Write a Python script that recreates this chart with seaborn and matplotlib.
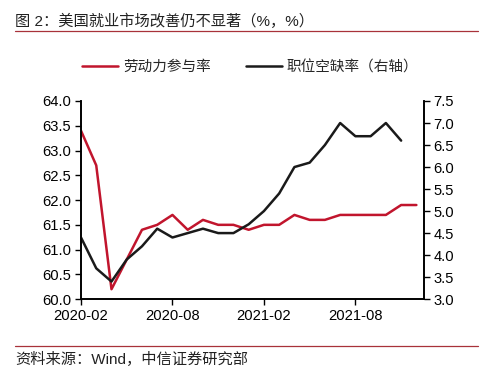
#Importing libraries
import pandas as pd
import matplotlib.pyplot as plt
import seaborn as sns
import numpy as np
from matplotlib.lines import Line2D

#Data (monthly, starting 2020-02)
Participation = [63.4, 62.7, 60.2, 60.8, 61.4, 61.5, 61.7, 61.4, 61.6, 61.5, 61.5, 61.4,
                 61.5, 61.5, 61.7, 61.6, 61.6, 61.7, 61.7, 61.7, 61.7, 61.9, 61.9]
Vacancy = [4.4, 3.7, 3.4, 3.9, 4.2, 4.6, 4.4, 4.5, 4.6, 4.5, 4.5, 4.7,
           5.0, 5.4, 6.0, 6.1, 6.5, 7.0, 6.7, 6.7, 7.0, 6.6]
TickPositions = [0, 6, 12, 18]
TickLabels = ["2020-02", "2020-08", "2021-02", "2021-08"]

RedLabel = "劳动力参与率"
BlackLabel = "职位空缺率（右轴）"
Title = "图 2：美国就业市场改善仍不显著（%，%）"
Source = "资料来源：Wind，中信证券研究部"

RED = "#C1152D"
BLACK = "#1A1A1A"

#Building the data frames
LeftFrame = pd.DataFrame({"Month": np.arange(len(Participation)), "Value": Participation})
RightFrame = pd.DataFrame({"Month": np.arange(len(Vacancy)), "Value": Vacancy})

sns.set_style("white")
plt.rcParams["font.family"] = ["Liberation Sans", "Noto Sans CJK SC", "DejaVu Sans"]

fig = plt.figure(figsize=(5, 3.84), dpi=100)
ax = fig.add_axes([0.162, 0.221, 0.686, 0.516])
ax2 = ax.twinx()

sns.lineplot(data=LeftFrame, x="Month", y="Value", ax=ax, color=RED, linewidth=1.8)
sns.lineplot(data=RightFrame, x="Month", y="Value", ax=ax2, color=BLACK, linewidth=1.8)

#Axes limits and ticks
ax.set_xlim(0, 22.5)
ax.set_ylim(60, 64)
ax.set_yticks(np.arange(60, 64.01, 0.5))
ax.set_yticklabels(["{:.1f}".format(v) for v in np.arange(60, 64.01, 0.5)])
ax2.set_ylim(3, 7.5)
ax2.set_yticks(np.arange(3, 7.51, 0.5))
ax2.set_yticklabels(["{:.1f}".format(v) for v in np.arange(3, 7.51, 0.5)])
ax.set_xticks(TickPositions)
ax.set_xticklabels(TickLabels)
for a in (ax, ax2):
    a.set_xlabel("")
    a.set_ylabel("")
    a.spines["top"].set_visible(False)
    for s in ("left", "right", "bottom"):
        a.spines[s].set_color("black")
        a.spines[s].set_linewidth(1.2)
ax.tick_params(axis="both", labelsize=10.6, length=4, width=1.0, direction="out",
               left=True, bottom=True, colors="black", pad=3)
ax2.tick_params(axis="y", labelsize=10.6, length=4, width=1.0, direction="out",
                right=True, colors="black", pad=3)

#Legend above the plot
handles = [Line2D([0], [0], color=RED, lw=1.8), Line2D([0], [0], color=BLACK, lw=1.8)]
fig.legend(handles, [RedLabel, BlackLabel], loc="center", bbox_to_anchor=(0.5, 0.825),
           ncol=2, frameon=False, fontsize=10.5, handlelength=2.5, handletextpad=0.3,
           columnspacing=2.4)

#Title, source and the red rules
fig.text(0.03, 0.945, Title, fontsize=11, ha="left", va="center", color="#222222")
fig.text(0.03, 0.063, Source, fontsize=11, ha="left", va="center", color="#222222")
fig.add_artist(Line2D([0.03, 0.956], [0.919, 0.919], color="#A8323A", lw=0.9))
fig.add_artist(Line2D([0.03, 0.956], [0.099, 0.099], color="#A8323A", lw=0.9))

plt.savefig("out.png", dpi=100)
